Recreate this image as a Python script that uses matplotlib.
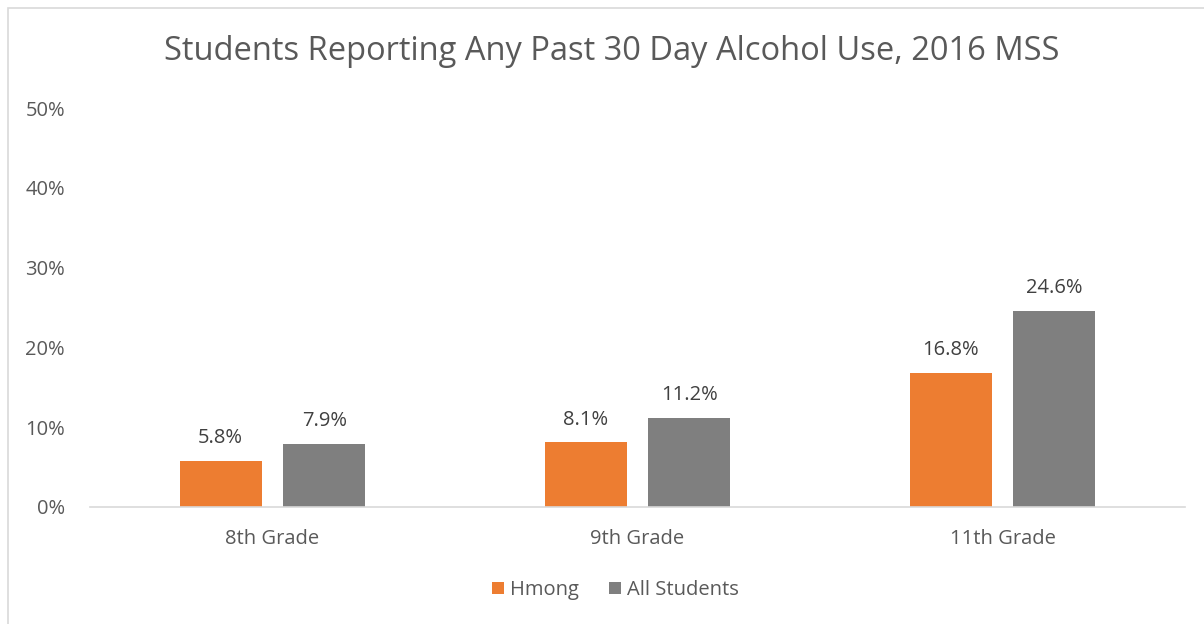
import matplotlib.pyplot as plt
import numpy as np
from matplotlib.patches import Rectangle

grades = ["8th Grade", "9th Grade", "11th Grade"]
hmong = [5.8, 8.1, 16.8]
all_students = [7.9, 11.2, 24.6]
yticks = [0, 10, 20, 30, 40, 50]

plt.rcParams['font.family'] = ['Open Sans', 'DejaVu Sans']
txt = '#595959'
orange = '#ED7D31'
gray = '#7F7F7F'

fig = plt.figure(figsize=(12.04, 6.24), dpi=100)
ax = fig.add_axes([90/1204, 1-507/624, 1095/1204, 399/624])

x = np.arange(len(grades))
off = 0.142
w = 0.225
b1 = ax.bar(x - off, hmong, w, color=orange, label="Hmong")
b2 = ax.bar(x + off, all_students, w, color=gray, label="All Students")

for bars, vals in [(b1, hmong), (b2, all_students)]:
    for r, v in zip(bars, vals):
        ax.annotate(f"{v:.1f}%", (r.get_x() + r.get_width()/2, v), xytext=(0, 9),
                    textcoords='offset points', ha='center', va='bottom',
                    fontsize=14.5, color='#404040')

ax.set_xlim(-0.5, 2.5)
ax.set_ylim(0, 50)
ax.set_yticks(yticks)
ax.set_yticklabels([f"{t}%" for t in yticks])
ax.set_xticks(x)
ax.set_xticklabels(grades)
ax.tick_params(length=0, labelsize=14.5, labelcolor=txt)
ax.tick_params(axis='y', pad=18)
ax.tick_params(axis='x', pad=16)
for s in ['top', 'right', 'left']:
    ax.spines[s].set_visible(False)
ax.spines['bottom'].set_color('#D9D9D9')
ax.spines['bottom'].set_linewidth(1.2)

fig.text(0.508, 1-51/624, "Students Reporting Any Past 30 Day Alcohol Use, 2016 MSS",
         ha='center', va='center', fontsize=23.5, color=txt)

fig.legend(loc='center', bbox_to_anchor=(0.511, 1-590/624), ncol=2, frameon=False,
           fontsize=14.5, labelcolor=txt, handlelength=0.6, handleheight=0.6,
           columnspacing=1.5, handletextpad=0.3)

fig.patches.append(Rectangle((8/1204, -0.1), 1.2, 1-8/624+0.1, transform=fig.transFigure,
                             fill=False, edgecolor='#D9D9D9', linewidth=1.2))

fig.savefig("out.png", dpi=100)
